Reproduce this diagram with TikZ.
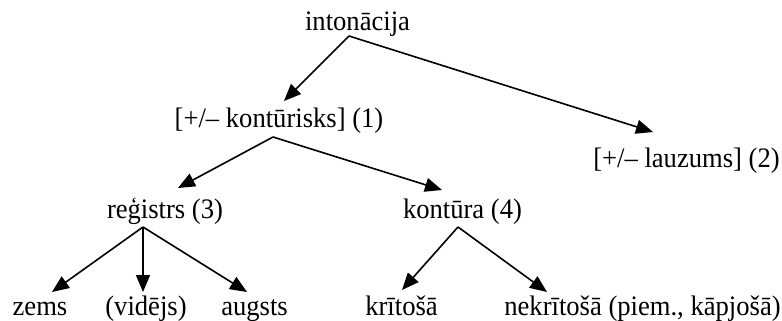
\documentclass[tikz,border=0pt]{standalone}
\usepackage{fontspec}
\setmainfont{Liberation Serif}
\usetikzlibrary{arrows.meta,calc}
\begin{document}
\begin{tikzpicture}[x=0.5pt,y=-0.5pt,
  lbl/.style={anchor=base,inner sep=0pt,font=\fontsize{13.3}{16}\selectfont},
  arr/.style={line width=0.8pt,-{Triangle[length=8.5pt,width=7pt]}}]
\useasboundingbox (0,0) rectangle (782,321);
\newcommand{\tx}[1]{\scalebox{1}[1.06]{#1}}
\node[lbl] (top) at (357.5,30) {\tx{intonācija}};
\node[lbl] (kon) at (279,127) {\tx{[+/– kontūrisks] (1)}};
\node[lbl] (lauz) at (686.5,167) {\tx{[+/– lauzums] (2)}};
\node[lbl] (reg) at (165,218) {\tx{reģistrs (3)}};
\node[lbl] (kont) at (462.5,218) {\tx{kontūra (4)}};
\node[lbl] (zems) at (40,315) {\tx{zems}};
\node[lbl] (vid) at (146,315) {\tx{(vidējs)}};
\node[lbl] (aug) at (254.5,315) {\tx{augsts}};
\node[lbl] (krit) at (401.5,315) {\tx{krītošā}};
\node[lbl] (nek) at (642.5,315) {\tx{nekrītošā (piem., kāpjošā)}};
\draw[arr] ($(top.base)+(-8.5,6)$) -- ($(kon.base)+(5,-26)$);
\draw[arr] ($(top.base)+(-8.5,6)$) -- ($(lauz.base)+(-33.5,-35)$);
\draw[arr] ($(kon.base)+(-6,10)$) -- ($(reg.base)+(13,-30)$);
\draw[arr] ($(kon.base)+(-6,10)$) -- ($(kont.base)+(-20.5,-28)$);
\draw[arr] ($(reg.base)+(-22,9)$) -- ($(zems.base)+(12,-23)$);
\draw[arr] ($(reg.base)+(-22,9)$) -- ($(vid.base)+(-3,-23)$);
\draw[arr] ($(reg.base)+(-22,9)$) -- ($(aug.base)+(-7.5,-23)$);
\draw[arr] ($(kont.base)+(-4.5,9)$) -- ($(krit.base)+(0.5,-25)$);
\draw[arr] ($(kont.base)+(-4.5,9)$) -- ($(nek.base)+(-95.5,-23)$);
\end{tikzpicture}
\end{document}
